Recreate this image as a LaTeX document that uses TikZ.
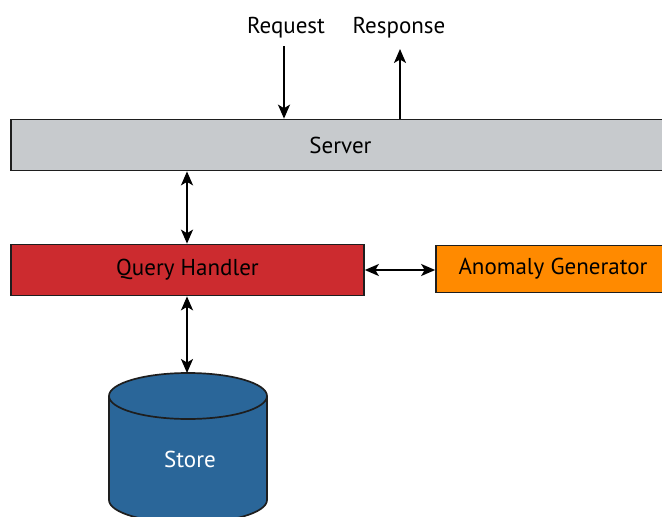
\documentclass[tikz,border=0pt]{standalone}
\usepackage{fontspec}
\setmainfont{PT Sans}
\usetikzlibrary{arrows.meta}
\definecolor{servergrey}{HTML}{C7CACD}
\definecolor{handlerred}{HTML}{CC2B2F}
\definecolor{genorange}{HTML}{FF8A00}
\definecolor{storeblue}{HTML}{2A6699}
\definecolor{edge}{HTML}{1E1E1E}
\tikzset{
  tip/.tip={Stealth[length=14pt,width=12pt,inset=3.5pt]},
  block/.style={draw=edge, line width=1.7pt, inner sep=0pt, font=\fontsize{23}{26}\selectfont},
  arr/.style={line width=1.8pt, -tip},
  biarr/.style={line width=1.8pt, tip-tip},
  lbl/.style={font=\fontsize{23}{26}\selectfont, inner sep=0pt}
}
\begin{document}
\begin{tikzpicture}[x=1pt,y=-1pt]
\useasboundingbox (0,0) rectangle (662,517);
\clip (0,0) rectangle (662,517);
\fill[white] (0,0) rectangle (662,517);

% main blocks
\node[block, fill=servergrey, minimum width=659pt, minimum height=51pt] (server) at (340.5,145) {Server};
\node[block, fill=handlerred, minimum width=353pt, minimum height=51pt] (qh) at (187.5,270) {Query Handler};
\node[block, fill=genorange, minimum width=234pt, minimum height=47pt] (ag) at (553,269) {Anomaly Generator};

% store cylinder
\draw[draw=edge, line width=1.7pt, fill=storeblue]
  (109,396) -- (109,500) arc[start angle=180, end angle=0, x radius=79, y radius=23]
  -- (267,396) arc[start angle=0, end angle=-180, x radius=79, y radius=23] -- cycle;
\draw[draw=edge, line width=1.7pt]
  (109,396) arc[start angle=180, end angle=0, x radius=79, y radius=23];
\coordinate (storetop) at (187,373);
\node[lbl, text=white] (store) at (190,459) {Store};

% external labels
\node[lbl] (req) at (286,28) {Request};
\node[lbl] (resp) at (399,28) {Response};
\coordinate (reqstart) at (284,46);
\coordinate (respend) at (400,49);

% connectors
\draw[arr] (reqstart) -- (reqstart |- server.north);
\draw[arr] (respend |- server.north) -- (respend);
\draw[biarr] (qh.north -| 187,0) -- (server.south -| 187,0);
\draw[biarr] (qh.east) -- (ag.west |- qh.east);
\draw[biarr] (qh.south -| storetop) -- (storetop);
\end{tikzpicture}
\end{document}
